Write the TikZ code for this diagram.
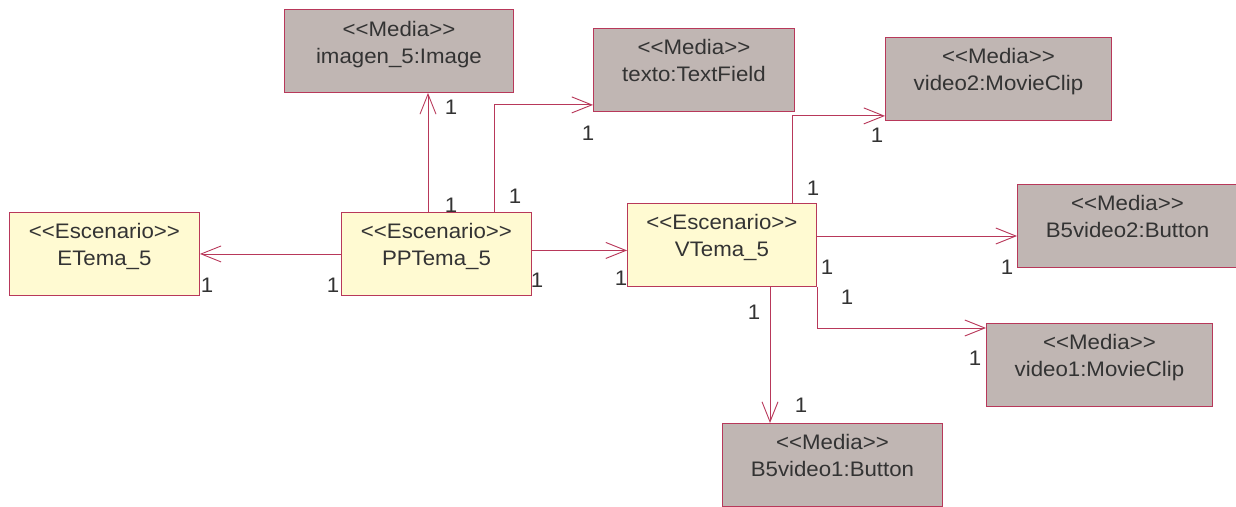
\documentclass[tikz,border=0pt]{standalone}
\usepackage{fontspec}
\setmainfont{Liberation Sans}[Ligatures=TeXOff, FakeStretch=1.06]
\usetikzlibrary{arrows.meta}
\definecolor{ln}{HTML}{B8385A}
\definecolor{mf}{HTML}{C0B6B3}
\definecolor{ef}{HTML}{FFFAD2}
\definecolor{tx}{HTML}{333333}
\begin{document}
\begin{tikzpicture}[x=1pt,y=-1pt,
  box/.style={draw=ln, line width=0.9pt, anchor=north west, inner sep=0pt, minimum height=83pt},
  media/.style={box, fill=mf},
  esc/.style={box, fill=ef},
  txt/.style={text=tx, font=\fontsize{21}{25}\selectfont, anchor=base, inner sep=0pt},
  mult/.style={text=tx, font=\fontsize{21}{25}\selectfont, inner sep=0pt},
  conn/.style={draw=ln, line width=0.9pt},
  nav/.style={conn, -{Straight Barb[length=20pt,width=16pt]}}]
\useasboundingbox (0,0) rectangle (1236,506);
% boxes
\node[media, minimum width=229pt] (imagen) at (284,9) {};
\node[media, minimum width=201pt] (texto) at (593,28) {};
\node[media, minimum width=226pt] (video2) at (885,37) {};
\node[media, minimum width=220pt] (b5v2) at (1017,184) {};
\node[media, minimum width=226pt] (video1) at (986,323) {};
\node[media, minimum width=220pt] (b5v1) at (722,423) {};
\node[esc, minimum width=190pt] (etema) at (9,212) {};
\node[esc, minimum width=190pt] (pptema) at (341,212) {};
\node[esc, minimum width=189pt] (vtema) at (627,203) {};
% texts
\node[txt] (imagenA) at ([yshift=-27pt]imagen.north) {<<Media>>};
\node[txt] (imagenB) at ([yshift=-54pt]imagen.north) {imagen\_5:Image};
\node[txt] (textoA) at ([yshift=-26pt]texto.north) {<<Media>>};
\node[txt] (textoB) at ([yshift=-53pt]texto.north) {texto:TextField};
\node[txt] (video2A) at ([yshift=-26pt]video2.north) {<<Media>>};
\node[txt] (video2B) at ([yshift=-53pt]video2.north) {video2:MovieClip};
\node[txt] (b5v2A) at ([yshift=-26pt]b5v2.north) {<<Media>>};
\node[txt] (b5v2B) at ([yshift=-53pt]b5v2.north) {B5video2:Button};
\node[txt] (video1A) at ([yshift=-26pt]video1.north) {<<Media>>};
\node[txt] (video1B) at ([yshift=-53pt]video1.north) {video1:MovieClip};
\node[txt] (b5v1A) at ([yshift=-26pt]b5v1.north) {<<Media>>};
\node[txt] (b5v1B) at ([yshift=-53pt]b5v1.north) {B5video1:Button};
\node[txt] (etemaA) at ([yshift=-26pt]etema.north) {<<Escenario>>};
\node[txt] (etemaB) at ([yshift=-53pt]etema.north) {ETema\_5};
\node[txt] (pptemaA) at ([yshift=-26pt]pptema.north) {<<Escenario>>};
\node[txt] (pptemaB) at ([yshift=-53pt]pptema.north) {PPTema\_5};
\node[txt] (vtemaA) at ([yshift=-26pt]vtema.north) {<<Escenario>>};
\node[txt] (vtemaB) at ([yshift=-53pt]vtema.north) {VTema\_5};
% connectors
\draw[nav] (pptema.west) -- (etema.east);
\draw[nav] ([yshift=3.5pt]pptema.east) -- ([yshift=3.5pt]pptema.east -| vtema.west);
\draw[nav] ([xshift=87pt]pptema.north west) -- ([xshift=87pt]pptema.north west |- imagen.south);
\draw[nav] ([xshift=153pt]pptema.north west) |- ([yshift=7pt]texto.south west);
\draw[nav] ([xshift=165pt]vtema.north west) |- ([yshift=5pt]video2.south west);
\draw[nav] ([yshift=-33pt]vtema.north east) -- ([yshift=-33pt]vtema.north east -| b5v2.west);
\draw[nav] ([xshift=1pt]vtema.south east) |- ([yshift=-5pt]video1.north west);
\draw[nav] ([xshift=143pt]vtema.south west) -- ([xshift=143pt]vtema.south west |- b5v1.north);
% multiplicities
\node[mult] (m1) at (207,285) {1};
\node[mult] (m2) at (333,285) {1};
\node[mult] (m3) at (537,280) {1};
\node[mult] (m4) at (621,278) {1};
\node[mult] (m5) at (451,205) {1};
\node[mult] (m6) at (451,107) {1};
\node[mult] (m7) at (515,196) {1};
\node[mult] (m8) at (588,133) {1};
\node[mult] (m9) at (813,188) {1};
\node[mult] (m10) at (877,135) {1};
\node[mult] (m11) at (827,267) {1};
\node[mult] (m12) at (1007,267) {1};
\node[mult] (m13) at (847,297) {1};
\node[mult] (m14) at (975,358) {1};
\node[mult] (m15) at (754,312) {1};
\node[mult] (m16) at (801,405) {1};
\end{tikzpicture}
\end{document}
